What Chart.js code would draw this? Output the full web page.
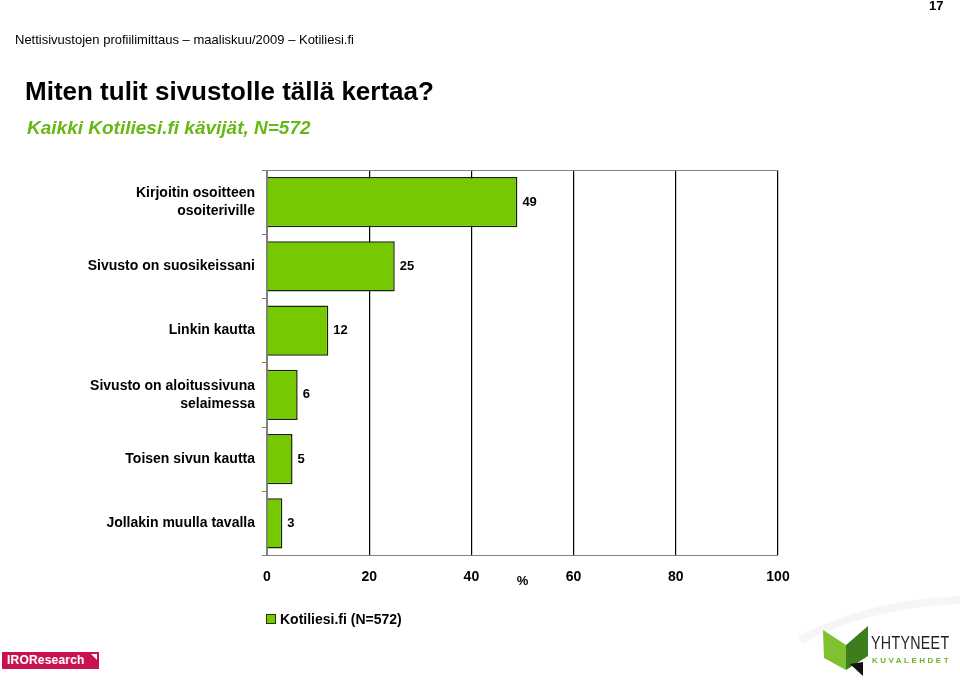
<!DOCTYPE html>
<html lang="fi">
<head>
<meta charset="utf-8">
<title>Miten tulit sivustolle tällä kertaa?</title>
<script src="https://cdn.jsdelivr.net/npm/chart.js@4/dist/chart.umd.min.js"></script>
<style>
  html, body { margin: 0; padding: 0; background: #fff; }
  body { font-family: Arial, "Liberation Sans", sans-serif; color: #000; }
  #pohja { position: relative; width: 960px; height: 684px; overflow: hidden; }
  #kaavio { position: absolute; left: 0; top: 0; }
  .teksti { position: absolute; white-space: nowrap; }
  .sivu { left: 929px; top: -2px; font-size: 13px; font-weight: bold; }
  .otsake { left: 15px; top: 32px; font-size: 13px; }
  .otsikko { left: 25px; top: 76px; font-size: 26px; font-weight: bold; }
  .alaotsikko { left: 27px; top: 117px; font-size: 19px; font-weight: bold; font-style: italic; color: #66b814; }
  .selite { left: 266px; top: 611px; font-size: 14px; font-weight: bold; }
  .selite span { display: inline-block; width: 8px; height: 8px; background: #76c800; border: 1px solid #1e3a00; margin-right: 4px; vertical-align: 0px; }
  .iro { left: 2px; top: 652px; width: 97px; height: 17px; background: #c8124f; color: #fff; font-size: 12px; font-weight: bold; line-height: 17px; padding-left: 5px; box-sizing: border-box; letter-spacing: 0.2px; }
  .yht { left: 871px; top: 632px; font-size: 19px; letter-spacing: 0.4px; color: #222; transform: scaleX(0.75); transform-origin: left; }
  .kuva { left: 872px; top: 656px; font-size: 8px; font-weight: bold; letter-spacing: 2.5px; color: #6ab422; }
</style>
</head>
<body>
<div id="pohja">
  <canvas id="kaavio" width="960" height="684"></canvas>
  <div class="teksti sivu">17</div>
  <div class="teksti otsake">Nettisivustojen profiilimittaus – maaliskuu/2009 – Kotiliesi.fi</div>
  <div class="teksti otsikko">Miten tulit sivustolle tällä kertaa?</div>
  <div class="teksti alaotsikko">Kaikki Kotiliesi.fi kävijät, N=572</div>
  <div class="teksti selite"><span></span>Kotiliesi.fi (N=572)</div>
  <div class="teksti iro">IROResearch</div>
  <svg style="position:absolute;left:0;top:0" width="960" height="684">
    <path d="M 800 640 Q 870 603 960 600" fill="none" stroke="#f6f6f6" stroke-width="8"/>
    <polygon points="91,654 97,654 97,660" fill="#fff"/>
    <polygon points="823,630 846,645 846,670 824,658" fill="#7fc12e"/>
    <polygon points="846,645 868,626 868,656 846,670" fill="#3d7e1c"/>
    <polygon points="850,664 863,662 863,676" fill="#111"/>
  </svg>
  <div class="teksti yht">YHTYNEET</div>
  <div class="teksti kuva">KUVALEHDET</div>
</div>
<script>
// kategoriat ja arvot (%)
const kategoriat = [
  ['Kirjoitin osoitteen', 'osoiteriville'],
  'Sivusto on suosikeissani',
  'Linkin kautta',
  ['Sivusto on aloitussivuna', 'selaimessa'],
  'Toisen sivun kautta',
  'Jollakin muulla tavalla'
];
const arvot = [49, 25, 12, 6, 5, 3];
const xTikit = [0, 20, 40, 60, 80, 100];
const sarjanNimi = 'Kotiliesi.fi (N=572)';

const fontti = 'Arial, "Liberation Sans", sans-serif';

// arvot palkkien perään
const arvoTekstit = {
  id: 'arvoTekstit',
  afterDatasetsDraw(chart) {
    const ctx = chart.ctx;
    const meta = chart.getDatasetMeta(0);
    ctx.save();
    ctx.font = 'bold 13px ' + fontti;
    ctx.fillStyle = '#000';
    ctx.textBaseline = 'middle';
    meta.data.forEach((bar, i) => {
      ctx.fillText(arvot[i], bar.x + 5, bar.y);
    });
    ctx.restore();
  }
};

// harmaa yläreuna kuvaajalle
const ylaReuna = {
  id: 'ylaReuna',
  beforeDatasetsDraw(chart) {
    const { ctx, chartArea: a } = chart;
    ctx.save();
    ctx.strokeStyle = '#808080';
    ctx.lineWidth = 1;
    ctx.beginPath();
    ctx.moveTo(a.left, a.top + 0.5);
    ctx.lineTo(a.right, a.top + 0.5);
    ctx.stroke();
    ctx.restore();
  }
};

const ctx = document.getElementById('kaavio').getContext('2d');

const data = {
  labels: kategoriat,
  datasets: [{
    label: sarjanNimi,
    data: arvot,
    backgroundColor: '#76c800',
    borderColor: '#142800',
    borderWidth: 1.5,
    barPercentage: 0.78,
    categoryPercentage: 1
  }]
};

const config = {
  type: 'bar',
  data: data,
  options: {
    indexAxis: 'y',
    responsive: false,
    animation: false,
    devicePixelRatio: 1,
    layout: {
      padding: { left: 0, top: 170, right: 182, bottom: 94.5 }
    },
    scales: {
      x: {
        min: xTikit[0],
        max: xTikit[xTikit.length - 1],
        afterBuildTicks: (scale) => {
          scale.ticks = xTikit.map(v => ({ value: v }));
        },
        afterFit: (scale) => { scale.height = 34; },
        grid: {
          color: (c) => (c.tick && c.tick.value === 0) ? '#808080' : '#000',
          lineWidth: 1.2,
          drawTicks: false
        },
        border: { display: true, color: '#808080' },
        ticks: {
          padding: 13,
          color: '#000',
          font: { family: fontti, size: 14, weight: 'bold' }
        },
        title: {
          display: true,
          text: '%',
          color: '#000',
          padding: 0,
          font: { family: fontti, size: 13, weight: 'bold' }
        }
      },
      y: {
        afterFit: (scale) => { scale.width = 267; },
        grid: {
          drawOnChartArea: false,
          drawTicks: true,
          tickLength: 5,
          color: '#808080'
        },
        border: { display: true, color: '#808080' },
        ticks: {
          padding: 7,
          color: '#000',
          font: { family: fontti, size: 14, weight: 'bold', lineHeight: 1.3 }
        }
      }
    },
    plugins: {
      legend: { display: false },
      tooltip: { enabled: false }
    }
  },
  plugins: [ylaReuna, arvoTekstit]
};

const kuvaaja = new Chart(ctx, config);
</script>
</body>
</html>
